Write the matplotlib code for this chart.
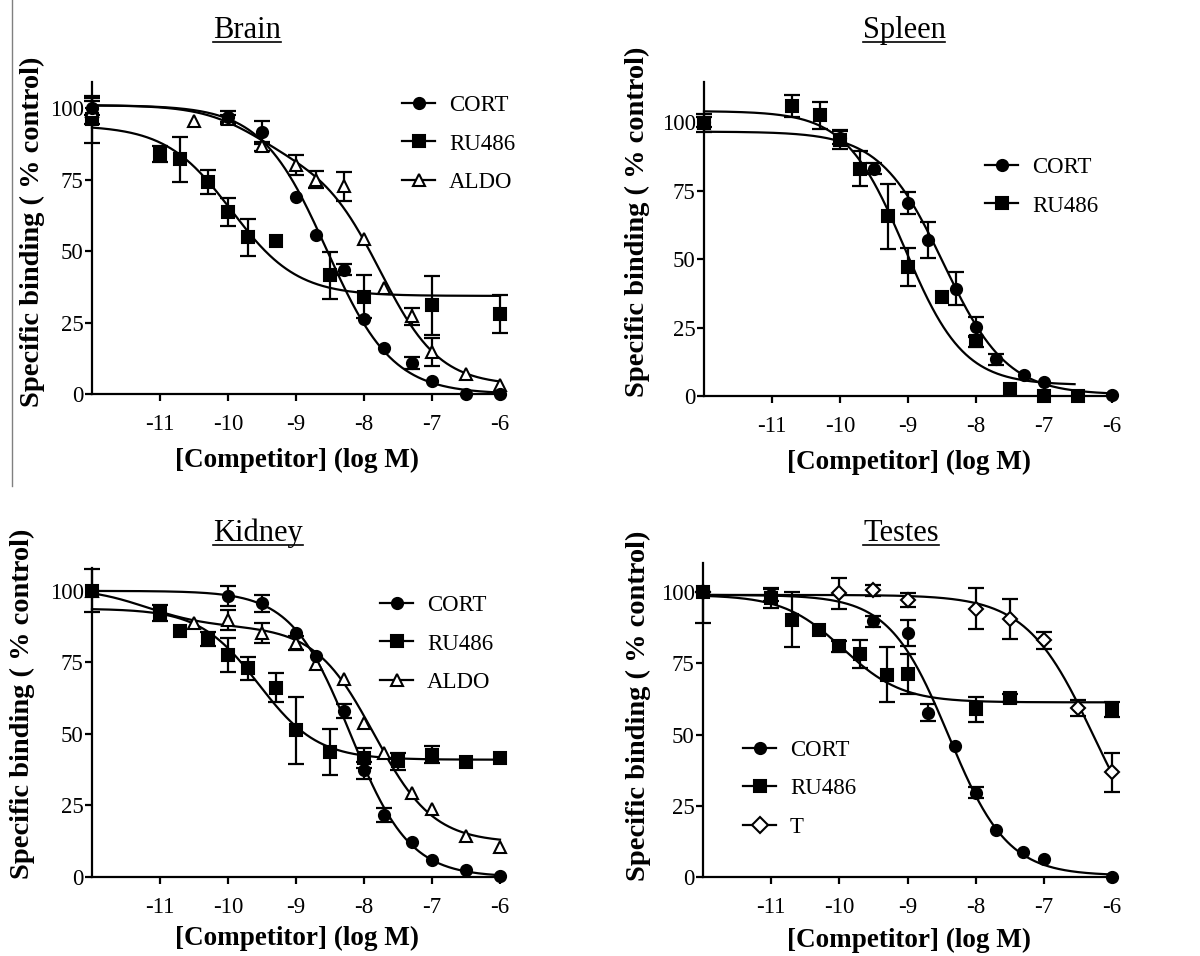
import numpy as np
import matplotlib
matplotlib.use('Agg')
import matplotlib.pyplot as plt
from matplotlib.lines import Line2D

W, H = 1200, 956

# ---- data (x = log M, y = % control, err = SEM) ----
brain_cort_x = [-12, -10, -9.5, -9, -8.7, -8.3, -8, -7.7, -7.3, -7, -6.5, -6]
brain_cort_y = [100, 97, 91.5, 69, 55.7, 43.5, 26.2, 16, 10.8, 4.4, 0, 0]
brain_cort_err = [2.5, 2, 4, 0, 0, 2, 0, 0, 2, 0, 0, 0]
brain_ru486_x = [-12, -11, -10.7, -10.3, -10, -9.7, -9.3, -8.5, -8, -7, -6]
brain_ru486_y = [96, 84, 82, 74, 63.6, 54.8, 53.4, 41.5, 34, 31, 28]
brain_ru486_err = [8.2, 2.7, 8, 4.2, 5, 6.5, 0, 8.2, 7.5, 10.2, 6.5]
brain_aldo_x = [-12, -10.5, -10, -9.5, -9, -8.7, -8.3, -8, -7.7, -7.3, -7, -6.5, -6]
brain_aldo_y = [99, 95.3, 96, 86.6, 80.2, 75, 72.6, 54.2, 37, 27.2, 14.7, 7.1, 3.3]
brain_aldo_err = [4.5, 0, 1.5, 1.5, 3.5, 3, 5, 0, 0, 3, 5, 0, 0]

spleen_cort_x = [-12, -10, -9.5, -9, -8.7, -8.3, -8, -7.7, -7.3, -7, -6]
spleen_cort_y = [100, 94.3, 83, 70.4, 57, 39.2, 25.2, 13.4, 7.5, 5.1, 0.2]
spleen_cort_err = [2, 2.5, 2, 4, 6.5, 6, 3.5, 2, 0, 0, 0]
spleen_ru486_x = [-12, -10.7, -10.3, -10, -9.7, -9.3, -9, -8.5, -8, -7.5, -7, -6.5]
spleen_ru486_y = [99.6, 105.7, 102.4, 93.5, 83, 65.6, 47, 36.1, 20, 2.7, 0, 0]
spleen_ru486_err = [3.3, 4, 5, 3.5, 6.5, 11.8, 7, 0, 2, 0, 0, 0]

kidney_cort_x = [-12, -10, -9.5, -9, -8.7, -8.3, -8, -7.7, -7.3, -7, -6.5, -6]
kidney_cort_y = [100, 98.2, 95.7, 85.4, 77.2, 58, 37.3, 21.6, 12.1, 6.1, 2.6, 0.2]
kidney_cort_err = [0, 3.5, 3, 0, 0, 2.5, 3, 2.5, 0, 0, 0, 0]
kidney_ru486_x = [-12, -11, -10.7, -10.3, -10, -9.7, -9.3, -9, -8.5, -8, -7.5, -7, -6.5, -6]
kidney_ru486_y = [100, 92.4, 86, 83.3, 77.6, 72.9, 66.2, 51.3, 43.8, 41.7, 40.5, 42.8, 40.1, 41.7]
kidney_ru486_err = [7.5, 2.8, 0, 2.5, 6, 4, 5, 11.7, 8, 3.5, 3, 3, 0, 0]
kidney_aldo_x = [-12, -10.5, -10, -9.5, -9, -8.7, -8.3, -8, -7.7, -7.3, -7, -6.5, -6]
kidney_aldo_y = [100, 88.9, 89.7, 85.4, 81.9, 74.3, 69.1, 53.9, 43.4, 29.2, 23.6, 14.2, 10.4]
kidney_aldo_err = [0, 0, 3.5, 3.5, 2.5, 0, 0, 0, 0, 0, 0, 0, 0]

testes_cort_x = [-12, -11, -9.5, -9, -8.7, -8.3, -8, -7.7, -7.3, -7, -6]
testes_cort_y = [100, 99, 89.7, 85.6, 57.6, 45.9, 29.6, 16.5, 8.9, 6.2, 0.1]
testes_cort_err = [0, 2, 2, 4.5, 3, 0, 2, 0, 0, 0, 0]
testes_ru486_x = [-12, -11, -10.7, -10.3, -10, -9.7, -9.3, -9, -8, -7.5, -6]
testes_ru486_y = [100, 97.9, 90.3, 86.8, 81, 78.3, 71, 71.3, 58.8, 62.9, 58.8]
testes_ru486_err = [10.8, 3.5, 9.6, 0, 2, 4.8, 9.7, 7, 4.5, 1.5, 2.5]
testes_ru486_err_up = [0, 3.5, 9.6, 0, 2, 4.8, 9.7, 7, 4.5, 1.5, 2.5]
testes_t_x = [-12, -10, -9.5, -9, -8, -7.5, -7, -6.5, -6]
testes_t_y = [100, 99.6, 100.6, 97.3, 94.2, 90.7, 83.1, 59.3, 36.8]
testes_t_err = [0, 5.5, 2, 2.5, 7.3, 7, 3, 2.7, 6.8]

# fitted curve parameters: one site [top, bottom, logIC50, hill]
# two site [top, bottom, fraction high, logIC50 high, logIC50 low]
brain_cort_fit = [101, 0, -8.55, 0.9]
brain_ru486_fit = [94, 34.3, -9.95, 0.9]
brain_aldo_fit = [101, 3, 0.2, -9.6, -7.75]
spleen_cort_fit = [96.5, 0.5, -8.48, 0.93]
spleen_ru486_fit = [104, 4, -9.05, 1.0]
kidney_cort_fit = [100, 0, -8.2, 1.0]
kidney_ru486_fit = [93.8, 41, -9.55, 1.0]
kidney_aldo_fit = [101, 12, 0.15, -11.2, -7.85]
testes_cort_fit = [99, 0.5, -8.4, 1.0]
testes_ru486_fit = [99, 61.3, -9.95, 1.0]
testes_t_fit = [99, 0, -6.27, 0.88]

SERIF = 'Liberation Serif'
plt.rcParams['font.family'] = SERIF


def one_site(x, top, bottom, logic50, hill):
    return bottom + (top - bottom) / (1 + 10 ** ((x - logic50) * hill))


def two_site(x, top, bottom, frac, ic_hi, ic_lo):
    s = frac / (1 + 10 ** (x - ic_hi)) + (1 - frac) / (1 + 10 ** (x - ic_lo))
    return bottom + (top - bottom) * s


def draw_series(ax, x, y, err, fit, marker, filled, x_end=-6, err_up=None, ms=8):
    xs = np.linspace(-12, x_end, 400)
    if len(fit) == 4:
        ys = one_site(xs, *fit)
    else:
        ys = two_site(xs, *fit)
    ax.plot(xs, ys, color='k', lw=1.6, zorder=2, clip_on=False)
    x = np.asarray(x, float)
    y = np.asarray(y, float)
    lo = np.asarray(err, float)
    hi = lo if err_up is None else np.asarray(err_up, float)
    m = (lo > 0) | (hi > 0)
    ax.errorbar(x[m], y[m], yerr=[lo[m], hi[m]], fmt='none', ecolor='k',
                elinewidth=1.6, capsize=5.5, capthick=1.6, zorder=3, clip_on=False)
    ax.plot(x, y, ls='none', marker=marker, ms=ms, mec='k', mew=1.5,
            mfc='k' if filled else 'white', zorder=4, clip_on=False)


def make_axes(fig, left, top, right, bottom, ytop):
    ax = fig.add_axes([left / W, 1 - bottom / H, (right - left) / W, (bottom - top) / H])
    ax.set_xlim(-12, -6)
    ax.set_ylim(0, ytop)
    for s in ['top', 'right']:
        ax.spines[s].set_visible(False)
    for s in ['left', 'bottom']:
        ax.spines[s].set_linewidth(1.6)
    ax.set_xticks([-11, -10, -9, -8, -7, -6])
    ax.set_xticklabels(['-11', '-10', '-9', '-8', '-7', '-6'])
    ax.set_yticks([0, 25, 50, 75, 100])
    ax.tick_params(direction='out', length=5, width=1.6, labelsize=16.5)
    ax.tick_params(axis='y', pad=1)
    ax.tick_params(axis='x', pad=9.5)
    ax.patch.set_alpha(0)
    return ax


def legend(ax, labels, markers, fills, left, top):
    handles = []
    for lab, mk, fl in zip(labels, markers, fills):
        handles.append(Line2D([], [], color='k', lw=1.6, marker=mk, ms=8, mec='k', mew=1.5,
                              mfc='k' if fl else 'white', label=lab))
    ax.legend(handles=handles, loc='upper left', bbox_to_anchor=(left / W, 1 - top / H),
              bbox_transform=ax.figure.transFigure, frameon=False, fontsize=16.5,
              handlelength=1.45, handletextpad=0.6, labelspacing=0.76, borderpad=0,
              borderaxespad=0, numpoints=1)


fig = plt.figure(figsize=(W / 100, H / 100), dpi=100)

ax1 = make_axes(fig, 92, 82, 500, 394, 109.1)
draw_series(ax1, brain_ru486_x, brain_ru486_y, brain_ru486_err, brain_ru486_fit, 's', True)
draw_series(ax1, brain_aldo_x, brain_aldo_y, brain_aldo_err, brain_aldo_fit, '^', False, ms=8.5)
draw_series(ax1, brain_cort_x, brain_cort_y, brain_cort_err, brain_cort_fit, 'o', True)
legend(ax1, ['CORT', 'RU486', 'ALDO'], ['o', 's', '^'], [True, True, False], 402, 95)

ax2 = make_axes(fig, 704, 82, 1112, 396, 114.6)
draw_series(ax2, spleen_ru486_x, spleen_ru486_y, spleen_ru486_err, spleen_ru486_fit, 's', True,
            x_end=-6.55)
draw_series(ax2, spleen_cort_x, spleen_cort_y, spleen_cort_err, spleen_cort_fit, 'o', True)
legend(ax2, ['CORT', 'RU486'], ['o', 's'], [True, True], 985, 157)

ax3 = make_axes(fig, 92, 568, 500, 877, 108)
draw_series(ax3, kidney_ru486_x, kidney_ru486_y, kidney_ru486_err, kidney_ru486_fit, 's', True)
draw_series(ax3, kidney_aldo_x, kidney_aldo_y, kidney_aldo_err, kidney_aldo_fit, '^', False, ms=8.5)
draw_series(ax3, kidney_cort_x, kidney_cort_y, kidney_cort_err, kidney_cort_fit, 'o', True)
legend(ax3, ['CORT', 'RU486', 'ALDO'], ['o', 's', '^'], [True, True, False], 380, 595)

ax4 = make_axes(fig, 703, 563, 1112, 877, 110.2)
draw_series(ax4, testes_ru486_x, testes_ru486_y, testes_ru486_err, testes_ru486_fit, 's', True,
            err_up=testes_ru486_err_up)
draw_series(ax4, testes_t_x, testes_t_y, testes_t_err, testes_t_fit, 'D', False, ms=7)
draw_series(ax4, testes_cort_x, testes_cort_y, testes_cort_err, testes_cort_fit, 'o', True)
legend(ax4, ['CORT', 'RU486', 'T'], ['o', 's', 'D'], [True, True, False], 743, 740)

# titles, axis labels
titles = [('Brain', 247, 38), ('Spleen', 904, 38), ('Kidney', 258, 541), ('Testes', 901, 541)]
title_texts = []
for name, cx, base in titles:
    t = fig.text(cx / W, 1 - base / H, name, ha='center', va='baseline', fontsize=22)
    title_texts.append((t, base))

ylabels = [(32, 232), (637, 222), (22, 704), (638, 706)]
for cx, cy in ylabels:
    fig.text(cx / W, 1 - cy / H, 'Specific binding ( % control)', rotation=90, ha='center',
             va='center', fontsize=20.5, fontweight='bold')

xlabels = [(297, 460), (909, 462), (297, 938), (909, 940)]
for cx, cy in xlabels:
    fig.text(cx / W, 1 - cy / H, '[Competitor] (log M)', ha='center', va='center',
             fontsize=19.5, fontweight='bold')

# underline titles
fig.canvas.draw()
rend = fig.canvas.get_renderer()
for t, base in title_texts:
    bb = t.get_window_extent(rend)
    yy = 1 - (base + 4) / H
    fig.add_artist(Line2D([bb.x0 / W, bb.x1 / W], [yy, yy], color='k', lw=1.2))

# thin frame line at left edge
fig.add_artist(Line2D([12 / W, 12 / W], [1, 1 - 486 / H], color='#808080', lw=1))

fig.savefig('out.png', dpi=100)
